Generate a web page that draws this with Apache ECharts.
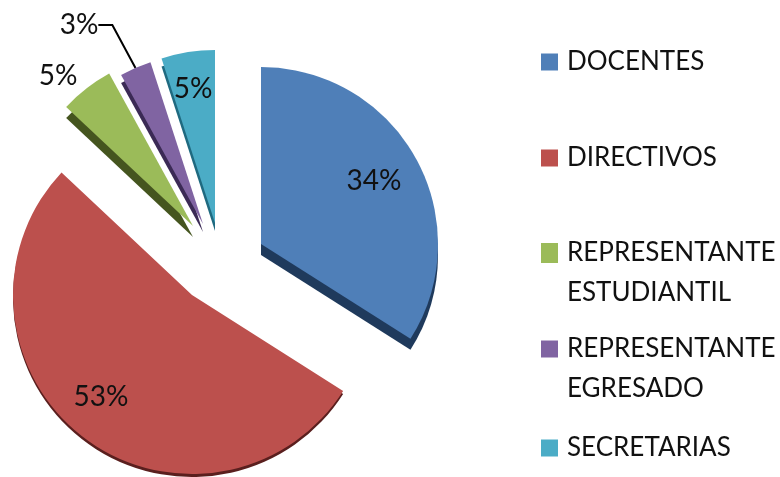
<!DOCTYPE html>
<html><head><meta charset="utf-8">
<style>html,body{margin:0;padding:0;background:#fff}#c{width:780px;height:477px}</style>
<script src="https://cdn.jsdelivr.net/npm/echarts@6/dist/echarts.min.js"></script>
</head><body><div id="c"></div>
<script>
const categories = ['DOCENTES','DIRECTIVOS','REPRESENTANTE\nESTUDIANTIL','REPRESENTANTE\nEGRESADO','SECRETARIAS'];
const values = [34,53,5,3,5];
const colors = ['#4f7fb8','#bc504d','#9bbb59','#8064a2','#4bacc6'];
const sideColors = ['#1f3a5c','#5a1f1e','#45551f','#3b2a55','#1f6a80'];
const centers = [[261,244],[192,295],[193,226],[203,224],[215,223]];
const radii = [177,179,174,170,173];
const depths = [11,3,11,8,8];
const labelSpots = [[374,181],[101,397],[58,76],[79,25],[193,89]];
const legendTops = [42,138,193,289,428];
const legendIconHeights = [17,17,20,17,17];
const LINE = 40;

const FONT = 'Lato, Carlito, "Open Sans", sans-serif';
function slice(i, side){
  const c = centers[i];
  return {
    type:'pie', silent:true, animation:false, startAngle:90, clockwise:true,
    radius:[0,radii[i]],
    center:[c[0], side ? c[1]+depths[i] : c[1]],
    z: side ? 1 : 2,
    labelLayout: side ? undefined : {x:labelSpots[i][0], y:labelSpots[i][1], align:'center', verticalAlign:'middle'},
    data: categories.map((name,j)=>({
      name, value:values[j],
      itemStyle:{color: j===i ? (side ? sideColors[i] : colors[i]) : 'transparent', borderWidth:0},
      label:{show: !side && j===i},
      labelLine:{show: !side && j===i && i===3}
    })),
    label:{position: i===3 ? 'outside' : 'inside', formatter:'{d}%', fontFamily:FONT, fontSize:28, color:'#111'},
    labelLine:{smooth:false, length:6, length2:14, lineStyle:{color:'#000', width:2}},
    emphasis:{disabled:true}
  };
}
const series = [];
values.forEach((_,i)=>series.push(slice(i,true)));
values.forEach((_,i)=>series.push(slice(i,false)));
const legends = categories.map((name,i)=>({
  left:541, top:legendTops[i], orient:'vertical', selectedMode:false, padding:0,
  itemWidth:17, itemHeight:legendIconHeights[i], icon:'rect',
  data:[{name, itemStyle:{color:colors[i]}}],
  // a blank first line keeps the swatch level with the first line of a two-line name
  formatter: n => n.includes('\n') ? '\n'+n : n,
  textStyle:{fontFamily:FONT, fontSize:26, color:'#111', lineHeight:LINE, padding:[0,0,0,4]}
}));
echarts.init(document.getElementById('c'),null,{renderer:'canvas'}).setOption({
  backgroundColor:'#fff', animation:false, legend:legends, series
});
</script></body></html>
